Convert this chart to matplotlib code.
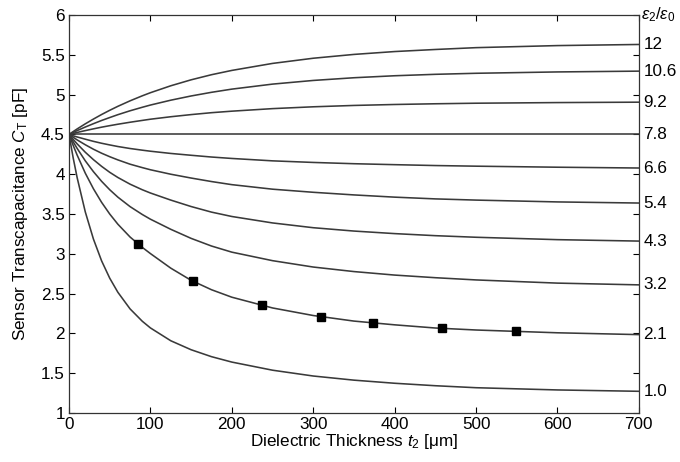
import numpy as np
import matplotlib
matplotlib.use("Agg")
import matplotlib.pyplot as plt

plt.rcParams['font.family'] = ['Liberation Sans', 'DejaVu Sans']
plt.rcParams['mathtext.fontset'] = 'custom'
plt.rcParams['mathtext.rm'] = 'Liberation Sans'
plt.rcParams['mathtext.it'] = 'Liberation Sans:italic'

# Dielectric thickness t2 [um] where the curves are sampled
thickness = [0, 5, 10, 20, 30, 40, 50, 60, 75, 90, 100, 125, 150, 175, 200,
             250, 300, 350, 400, 450, 500, 600, 700]

# Relative permittivity of each curve and its transcapacitance C_T [pF]
eps_labels = ['12', '10.6', '9.2', '7.8', '6.6', '5.4', '4.3', '3.2', '2.1', '1.0']
ct_12 = [4.50, 4.535, 4.569, 4.633, 4.693, 4.750, 4.803, 4.853, 4.922, 4.985, 5.024, 5.111,
         5.186, 5.250, 5.304, 5.392, 5.457, 5.505, 5.541, 5.567, 5.590, 5.616, 5.630]
ct_10_6 = [4.50, 4.524, 4.548, 4.593, 4.635, 4.675, 4.712, 4.748, 4.797, 4.841, 4.869, 4.930,
           4.983, 5.029, 5.069, 5.132, 5.178, 5.212, 5.237, 5.255, 5.268, 5.285, 5.295]
ct_9_2 = [4.50, 4.513, 4.525, 4.548, 4.570, 4.591, 4.610, 4.628, 4.653, 4.676, 4.691, 4.722,
          4.749, 4.773, 4.792, 4.824, 4.847, 4.864, 4.876, 4.885, 4.892, 4.900, 4.905]
ct_7_8 = [4.50] * 23
ct_6_6 = [4.50, 4.483, 4.468, 4.440, 4.413, 4.389, 4.368, 4.348, 4.323, 4.302, 4.289, 4.261,
          4.238, 4.216, 4.198, 4.168, 4.148, 4.132, 4.120, 4.109, 4.101, 4.088, 4.078]
ct_5_4 = [4.50, 4.465, 4.431, 4.370, 4.314, 4.264, 4.220, 4.180, 4.126, 4.083, 4.056, 4.000,
          3.952, 3.908, 3.869, 3.812, 3.773, 3.740, 3.712, 3.690, 3.675, 3.652, 3.638]
ct_4_3 = [4.50, 4.439, 4.381, 4.276, 4.183, 4.099, 4.024, 3.959, 3.875, 3.805, 3.764, 3.675,
          3.594, 3.524, 3.469, 3.388, 3.328, 3.286, 3.254, 3.228, 3.208, 3.178, 3.160]
ct_3_2 = [4.50, 4.409, 4.324, 4.168, 4.032, 3.911, 3.805, 3.712, 3.593, 3.494, 3.435, 3.308,
          3.194, 3.098, 3.021, 2.914, 2.834, 2.777, 2.733, 2.700, 2.672, 2.632, 2.610]
ct_2_1 = [4.50, 4.365, 4.240, 4.013, 3.817, 3.647, 3.500, 3.372, 3.211, 3.081, 3.003, 2.820,
          2.667, 2.549, 2.455, 2.320, 2.225, 2.155, 2.108, 2.068, 2.043, 2.008, 1.985]
ct_1_0 = [4.50, 4.211, 3.956, 3.526, 3.185, 2.912, 2.694, 2.517, 2.308, 2.153, 2.069, 1.908,
          1.795, 1.708, 1.640, 1.538, 1.465, 1.413, 1.374, 1.343, 1.318, 1.290, 1.273]
curves = [ct_12, ct_10_6, ct_9_2, ct_7_8, ct_6_6, ct_5_4, ct_4_3, ct_3_2, ct_2_1, ct_1_0]

# measured points (eps = 2.1 sample)
meas_t = [85, 152, 237, 310, 373, 458, 549]
meas_ct = [3.12, 2.655, 2.355, 2.207, 2.13, 2.063, 2.025]

fig = plt.figure(figsize=(6.8, 4.62), dpi=100)
ax = fig.add_axes([0.1015, 0.106, 0.838, 0.8615])

for ct in curves:
    ax.plot(thickness, ct, color='#3a3a3a', lw=1.15)
ax.plot(meas_t, meas_ct, 's', color='black', ms=5.5, ls='none')

ax.set_xlim(0, 700)
ax.set_ylim(1, 6)
ax.set_xticks(np.arange(0, 701, 100))
ax.set_yticks(np.arange(1, 6.01, 0.5))
ax.set_yticklabels(['1', '1.5', '2', '2.5', '3', '3.5', '4', '4.5', '5', '5.5', '6'])
ax.tick_params(direction='in', length=4, width=0.8, labelsize=12.3,
               top=True, right=True, pad=3)
for sp in ax.spines.values():
    sp.set_linewidth(0.9)
    sp.set_color('#333333')

# permittivity labels at the right-hand end of each curve
for lab, ct in zip(eps_labels, curves):
    ax.text(1.008, ct[-1], lab, transform=ax.get_yaxis_transform(),
            ha='left', va='center', fontsize=12.3)
ax.text(1.004, 6.0, r'$\epsilon_2/\epsilon_0$', transform=ax.get_yaxis_transform(),
        ha='left', va='center', fontsize=12)

ax.set_xlabel(r'Dielectric Thickness $\mathit{t}_2$ [$\mathrm{\mu}$m]', fontsize=12.3, labelpad=0)
ax.set_ylabel(r'Sensor Transcapacitance $\mathit{C}_\mathrm{T}$ [pF]', fontsize=12.3, labelpad=8)

fig.savefig('out.png', dpi=100)
